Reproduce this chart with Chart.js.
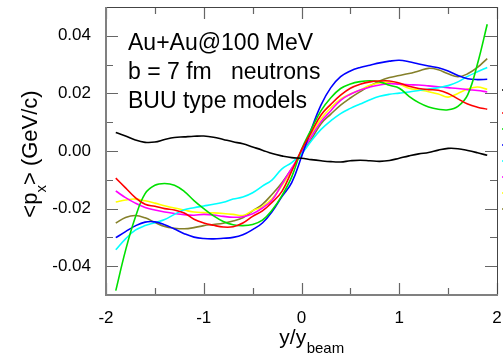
<!DOCTYPE html>
<html>
<head>
<meta charset="utf-8">
<script src="https://cdn.jsdelivr.net/npm/chart.js@4.4.1/dist/chart.umd.min.js"></script>
<style>
  html, body { margin: 0; padding: 0; background: #fff; }
  #wrap { position: relative; width: 503px; height: 355px; }
  canvas { display: block; }
</style>
</head>
<body>
<div id="wrap"><canvas id="c" width="503" height="355"></canvas></div>
<script>
// rapidity y/y_beam sampling points
const rapidity = [-1.9, -1.8, -1.7, -1.6, -1.5, -1.4, -1.3, -1.2, -1.1, -1.0,
                  -0.9, -0.8, -0.7, -0.6, -0.5, -0.4, -0.3, -0.2, -0.1, 0.0,
                   0.1,  0.2,  0.3,  0.4,  0.5,  0.6,  0.7,  0.8,  0.9, 1.0,
                   1.1,  1.2,  1.3,  1.4,  1.5,  1.6,  1.7,  1.8,  1.9];

// <p_x> (GeV/c) for neutrons, one array per BUU-type model
const modelBlack = [0.0064, 0.0052, 0.0038, 0.0030, 0.0031, 0.0040, 0.0047, 0.0049, 0.0051, 0.0052,
                    0.0048, 0.0040, 0.0032, 0.0025, 0.0014, 0.0003, -0.0009, -0.0017, -0.0023, -0.0025,
                   -0.0030, -0.0034, -0.0037, -0.0038, -0.0034, -0.0032, -0.0034, -0.0036, -0.0033, -0.0025,
                   -0.0017, -0.0010, -0.0005, 0.0003, 0.0009, 0.0008, 0.0002, -0.0006, -0.0015];
const modelRed   = [-0.0094, -0.0128, -0.0162, -0.0185, -0.0192, -0.0200, -0.0205, -0.0215, -0.0237, -0.0250,
                    -0.0258, -0.0264, -0.0263, -0.0250, -0.0227, -0.0208, -0.0178, -0.0140, -0.0070, 0.0004,
                     0.0065, 0.0125, 0.0162, 0.0194, 0.0218, 0.0232, 0.0240, 0.0243, 0.0243, 0.0236,
                     0.0225, 0.0217, 0.0213, 0.0211, 0.0200, 0.0181, 0.0163, 0.0152, 0.0145];
const modelGreen = [-0.0485, -0.0345, -0.0230, -0.0148, -0.0119, -0.0113, -0.0119, -0.0140, -0.0172, -0.0200,
                    -0.0225, -0.0245, -0.0256, -0.0259, -0.0255, -0.0240, -0.0205, -0.0155, -0.0090, 0.0005,
                     0.0075, 0.0140, 0.0185, 0.0217, 0.0233, 0.0241, 0.0244, 0.0240, 0.0228, 0.0218,
                     0.0190, 0.0168, 0.0153, 0.0145, 0.0143, 0.0155, 0.0195, 0.0302, 0.0440];
const modelBlue  = [-0.0301, -0.0280, -0.0260, -0.0247, -0.0246, -0.0256, -0.0271, -0.0287, -0.0299, -0.0304,
                    -0.0305, -0.0303, -0.0300, -0.0291, -0.0273, -0.0250, -0.0210, -0.0158, -0.0110, -0.0020,
                     0.0075, 0.0160, 0.0220, 0.0258, 0.0278, 0.0290, 0.0298, 0.0306, 0.0312, 0.0315,
                     0.0310, 0.0302, 0.0295, 0.0289, 0.0278, 0.0262, 0.0251, 0.0248, 0.0249];
const modelCyan  = [-0.0343, -0.0305, -0.0275, -0.0259, -0.0249, -0.0238, -0.0220, -0.0204, -0.0197, -0.0191,
                    -0.0185, -0.0178, -0.0167, -0.0160, -0.0145, -0.0122, -0.0100, -0.0062, -0.0040, -0.0010,
                     0.0035, 0.0075, 0.0105, 0.0130, 0.0148, 0.0163, 0.0178, 0.0190, 0.0197, 0.0201,
                     0.0205, 0.0210, 0.0215, 0.0220, 0.0227, 0.0240, 0.0259, 0.0275, 0.0290];
const modelMagenta = [-0.0139, -0.0162, -0.0181, -0.0196, -0.0205, -0.0212, -0.0217, -0.0221, -0.0223, -0.0220,
                      -0.0222, -0.0227, -0.0230, -0.0228, -0.0218, -0.0198, -0.0170, -0.0115, -0.0060, -0.0005,
                       0.0050, 0.0102, 0.0140, 0.0176, 0.0197, 0.0212, 0.0222, 0.0229, 0.0234, 0.0232,
                       0.0230, 0.0229, 0.0226, 0.0223, 0.0220, 0.0217, 0.0213, 0.0210, 0.0205];
const modelYellow = [-0.0177, -0.0170, -0.0167, -0.0173, -0.0181, -0.0190, -0.0198, -0.0205, -0.0212, -0.0214,
                     -0.0215, -0.0217, -0.0220, -0.0224, -0.0207, -0.0193, -0.0165, -0.0120, -0.0065, -0.0005,
                      0.0058, 0.0112, 0.0150, 0.0180, 0.0198, 0.0212, 0.0228, 0.0236, 0.0237, 0.0232,
                      0.0218, 0.0212, 0.0206, 0.0198, 0.0187, 0.0200, 0.0215, 0.0222, 0.0214];
const modelOlive = [-0.0250, -0.0231, -0.0224, -0.0232, -0.0248, -0.0262, -0.0268, -0.0270, -0.0266, -0.0259,
                    -0.0255, -0.0251, -0.0243, -0.0232, -0.0208, -0.0185, -0.0150, -0.0110, -0.0062, -0.0010,
                     0.0040, 0.0095, 0.0128, 0.0159, 0.0184, 0.0206, 0.0226, 0.0243, 0.0255, 0.0262,
                     0.0269, 0.0278, 0.0287, 0.0282, 0.0268, 0.0258, 0.0268, 0.0290, 0.0321];

// axis tick labels
const xTickValues = [-2, -1, 0, 1, 2];
const xMinorValues = [-1.5, -0.5, 0.5, 1.5];
const yTickValues = [-0.04, -0.02, 0.00, 0.02, 0.04];
const yMinorValues = [-0.03, -0.01, 0.01, 0.03];

const annotationLines = ['Au+Au@100 MeV', 'b = 7 fm   neutrons', 'BUU type models'];

const models = [
  { name: 'model A', values: modelBlack,   color: '#000000' },
  { name: 'model B', values: modelRed,     color: '#ff0000' },
  { name: 'model C', values: modelGreen,   color: '#00e000' },
  { name: 'model D', values: modelBlue,    color: '#0000ff' },
  { name: 'model E', values: modelCyan,    color: '#00ffff' },
  { name: 'model F', values: modelMagenta, color: '#ff00ff' },
  { name: 'model G', values: modelYellow,  color: '#ffff00' },
  { name: 'model H', values: modelOlive,   color: '#85802a' }
];

const FONT = "'Liberation Sans', Arial, Helvetica, sans-serif";
Chart.defaults.font.family = FONT;
Chart.defaults.color = '#000';

// inward ticks on all four sides, the frame, legend stubs and texts
const framePlugin = {
  id: 'framePlugin',
  afterDatasetsDraw(chart) {
    const { ctx, chartArea: { left, right, top, bottom }, scales: { x, y } } = chart;
    ctx.save();
    ctx.lineCap = 'butt';

    // ticks
    ctx.strokeStyle = '#666';
    ctx.lineWidth = 1.2;
    const major = 12, minor = 7;
    const xt = (v, len) => {
      const px = Math.round(x.getPixelForValue(v)) + 0.5;
      ctx.beginPath();
      ctx.moveTo(px, bottom); ctx.lineTo(px, bottom - len);
      ctx.moveTo(px, top); ctx.lineTo(px, top + len);
      ctx.stroke();
    };
    const yt = (v, len) => {
      const py = Math.round(y.getPixelForValue(v)) + 0.5;
      ctx.beginPath();
      ctx.moveTo(left, py); ctx.lineTo(left + len, py);
      ctx.moveTo(right, py); ctx.lineTo(right - len, py);
      ctx.stroke();
    };
    xTickValues.forEach(v => xt(v, major));
    xMinorValues.forEach(v => xt(v, minor));
    yTickValues.forEach(v => yt(v, major));
    yMinorValues.forEach(v => yt(v, minor));

    // frame
    ctx.strokeStyle = '#444';
    ctx.lineWidth = 1;
    ctx.beginPath();
    ctx.moveTo(left, top + 0.5); ctx.lineTo(right + 0.5, top + 0.5); ctx.lineTo(right + 0.5, bottom);
    ctx.stroke();
    ctx.strokeStyle = '#808080';
    ctx.lineWidth = 2;
    ctx.beginPath();
    ctx.moveTo(left, top); ctx.lineTo(left, bottom); ctx.lineTo(right + 1, bottom);
    ctx.stroke();

    // legend line samples just beyond the right edge
    ctx.lineWidth = 1.6;
    chart.data.datasets.forEach((ds, i) => {
      const ly = i === 0 ? top + 83 : top + 106 + (i - 1) * 16;
      ctx.strokeStyle = ds.borderColor;
      ctx.beginPath();
      ctx.moveTo(right + 5, ly); ctx.lineTo(right + 25, ly);
      ctx.stroke();
    });

    // annotation
    ctx.fillStyle = '#000';
    ctx.textAlign = 'left';
    ctx.textBaseline = 'alphabetic';
    ctx.font = '23px ' + FONT;
    annotationLines.forEach((t, i) => ctx.fillText(t, left + 22, top + 43 + i * 29));

    // x axis title: y/y_beam
    const cx = (left + right) / 2;
    ctx.font = '21px ' + FONT;
    const mainW = ctx.measureText('y/y').width;
    ctx.font = '15px ' + FONT;
    const subW = ctx.measureText('beam').width;
    const x0 = cx + 10 - (mainW + subW) / 2;
    ctx.font = '21px ' + FONT;
    ctx.fillText('y/y', x0, 344);
    ctx.font = '15px ' + FONT;
    ctx.fillText('beam', x0 + mainW + 0.5, 353);

    // y axis title: <p_x> (GeV/c)
    ctx.save();
    ctx.translate(37, (top + bottom) / 2 + 3);
    ctx.rotate(-Math.PI / 2);
    ctx.font = '22px ' + FONT;
    const a = '<p', b = '> (GeV/c)';
    const wa = ctx.measureText(a).width, wb = ctx.measureText(b).width;
    ctx.font = '15px ' + FONT;
    const ws = ctx.measureText('x').width;
    const start = -(wa + ws + wb) / 2;
    ctx.font = '22px ' + FONT;
    ctx.fillText(a, start, 0);
    ctx.font = '15px ' + FONT;
    ctx.fillText('x', start + wa, 9);
    ctx.font = '22px ' + FONT;
    ctx.fillText(b, start + wa + ws, 0);
    ctx.restore();

    ctx.restore();
  }
};

new Chart(document.getElementById('c'), {
  type: 'line',
  data: {
    datasets: models.map(m => ({
      label: m.name,
      data: rapidity.map((r, i) => ({ x: r, y: m.values[i] })),
      borderColor: m.color,
      borderWidth: 1.6,
      pointRadius: 0,
      tension: 0.4,
      fill: false
    }))
  },
  options: {
    responsive: false,
    animation: false,
    devicePixelRatio: 1,
    layout: { padding: { top: 7, right: 6, left: 0, bottom: 0 } },
    plugins: { legend: { display: false }, tooltip: { enabled: false } },
    scales: {
      x: {
        type: 'linear',
        min: -2, max: 2,
        grid: { display: false, drawTicks: false },
        border: { display: false },
        afterBuildTicks: s => { s.ticks = xTickValues.map(v => ({ value: v })); },
        afterFit: s => { s.height = 60; s.paddingLeft = 0; s.paddingRight = 0; },
        ticks: { font: { size: 17 }, color: '#000', padding: 13, maxRotation: 0,
                 callback: v => String(v) }
      },
      y: {
        type: 'linear',
        min: -0.05, max: 0.05,
        grid: { display: false, drawTicks: false },
        border: { display: false },
        afterBuildTicks: s => { s.ticks = yTickValues.map(v => ({ value: v })); },
        afterFit: s => { s.width = 106; s.paddingTop = 0; s.paddingBottom = 0; },
        ticks: { font: { size: 17 }, color: '#000', padding: 15,
                 callback: v => v.toFixed(2) }
      }
    }
  },
  plugins: [framePlugin]
});
</script>
</body>
</html>
